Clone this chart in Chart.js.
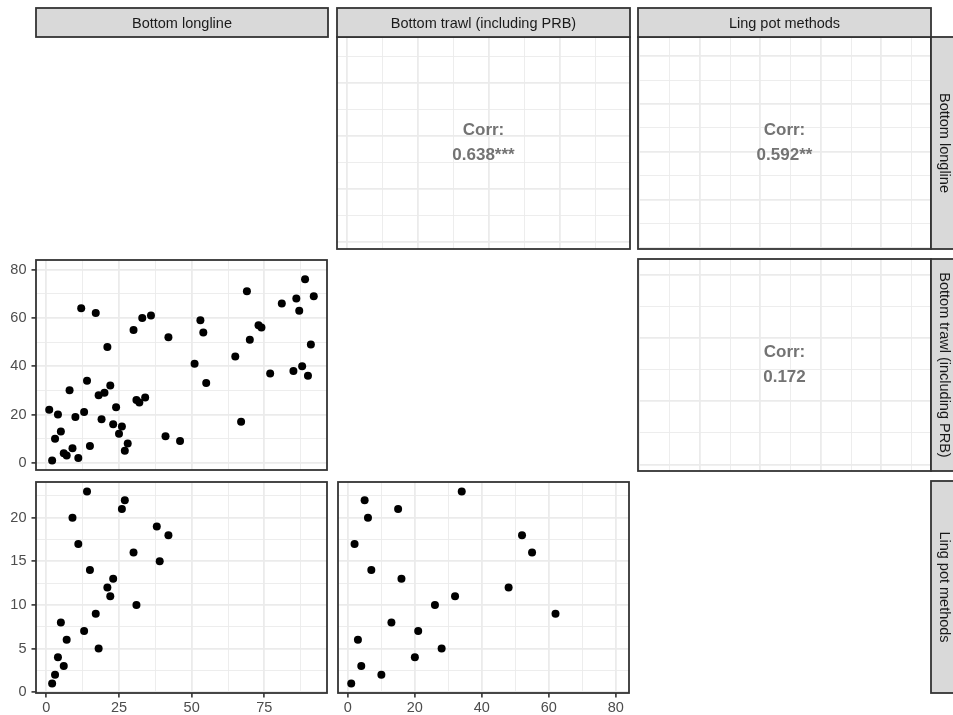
<!DOCTYPE html>
<html>
<head>
<meta charset="utf-8">
<title>Pairwise comparison of fishing methods</title>
<script src="https://cdn.jsdelivr.net/npm/chart.js@4.4.1/dist/chart.umd.min.js"></script>
<style>
  html, body { margin: 0; padding: 0; background: #ffffff; }
  #fig { position: relative; width: 953px; height: 715px; overflow: hidden; background: #ffffff; }
  #fig canvas { position: absolute; }
  #fig svg { position: absolute; left: 0; top: 0; pointer-events: none; }
</style>
</head>
<body>
<div id="fig"></div>
<script>
// ---- data -------------------------------------------------------------
const methods = ['Bottom longline', 'Bottom trawl (including PRB)', 'Ling pot methods'];

// Bottom longline (x) against bottom trawl (y)
const ltLongline = [1, 2, 3, 4, 5, 6, 7, 8, 9, 10, 11, 12, 13, 14, 15, 17, 18, 19, 20, 21, 22, 23, 24, 25, 26, 27, 28,
                    30, 31, 32, 33, 34, 36, 41, 42, 46, 51, 53, 54, 55, 65, 67, 69, 70, 73, 74, 77, 81, 85, 86, 87, 88, 89, 90, 91, 92];
const ltTrawl    = [22, 1, 10, 20, 13, 4, 3, 30, 6, 19, 2, 64, 21, 34, 7, 62, 28, 18, 29, 48, 32, 16, 23, 12, 15, 5, 8,
                    55, 26, 25, 60, 27, 61, 11, 52, 9, 41, 59, 54, 33, 44, 17, 71, 51, 57, 56, 37, 66, 38, 68, 63, 40, 76, 36, 49, 69];

// Bottom longline (x) against ling pot methods (y)
const lpLongline = [2, 3, 4, 5, 6, 7, 9, 11, 13, 14, 15, 17, 18, 21, 22, 23, 26, 27, 30, 31, 38, 39, 42];
const lpLing     = [1, 2, 4, 8, 3, 6, 20, 17, 7, 23, 14, 9, 5, 12, 11, 13, 21, 22, 16, 10, 19, 15, 18];

// Bottom trawl (x) against ling pot methods (y)
const tpTrawl = [1, 2, 3, 4, 5, 6, 7, 10, 13, 15, 16, 20, 21, 26, 28, 32, 34, 48, 52, 55, 62];
const tpLing  = [1, 17, 6, 3, 22, 20, 14, 2, 8, 21, 13, 4, 7, 10, 5, 11, 23, 12, 18, 16, 9];

// Pearson correlations for the upper triangle
const corrCoef  = [0.638, 0.592, 0.172];
const corrStars = ['***', '**', ''];

// Axis breaks
const longlineBreaks = [0, 25, 50, 75];
const trawlBreaks    = [0, 20, 40, 60, 80];
const lingBreaks     = [0, 5, 10, 15, 20];
const longlineLingBreaks = [0, 10, 20, 30, 40];

// ---- scales -----------------------------------------------------------
function minorOf(major, min, max) {
  const step = major[1] - major[0];
  const out = [];
  for (let v = major[0] - step / 2; v <= max; v += step) if (v >= min) out.push(v);
  return out;
}
function scaleSpec(min, max, major) {
  return { min, max, major: major.filter(v => v >= min && v <= max), minor: minorOf(major, min, max) };
}
const SC = {
  longline:     scaleSpec(-3.55, 96.55, longlineBreaks),
  trawl:        scaleSpec(-2.95, 83.95, trawlBreaks),
  ling:         scaleSpec(-0.1, 24.1, lingBreaks),
  trawlPairLL:  scaleSpec(-2.75, 79.75, trawlBreaks),
  longlinePairLP: scaleSpec(-0.3, 44, longlineLingBreaks),
  trawlPairLP:  scaleSpec(-2.05, 65.05, trawlBreaks)
};

// ---- layout -----------------------------------------------------------
const FONT = '"Liberation Sans", Arial, Helvetica, sans-serif';
const colLeft = [36, 337, 638], colWidth = [292, 293, 293];
const rowTop = [37, 259, 481], rowHeight = [212, 212, 212];
const stripTop = 8, stripSize = 28;
const axisW = 36, axisH = 22, M = 3;

function gridScale(spec, showAxis, axis) {
  const ticks = spec.major.concat(spec.minor).sort((a, b) => a - b);
  const isMajor = v => spec.major.some(m => Math.abs(m - v) < 1e-9);
  return {
    type: 'linear',
    position: axis === 'x' ? 'bottom' : 'left',
    min: spec.min, max: spec.max,
    afterBuildTicks: s => { s.ticks = ticks.map(v => ({ value: v })); },
    afterFit: s => {
      if (axis === 'x') s.height = showAxis ? axisH : 0; else s.width = showAxis ? axisW : 0;
      s.paddingTop = s.paddingBottom = s.paddingLeft = s.paddingRight = 0;
    },
    border: { display: false },
    grid: {
      color: '#EBEBEB',
      lineWidth: c => (c.tick && isMajor(c.tick.value)) ? 1.8 : 0.9,
      drawTicks: showAxis,
      tickLength: 4.5,
      tickWidth: 1.6,
      tickColor: c => (c.tick && isMajor(c.tick.value)) ? '#333333' : 'rgba(0,0,0,0)'
    },
    ticks: {
      display: showAxis, autoSkip: false, maxRotation: 0, minRotation: 0,
      padding: axis === 'x' ? 2 : 5,
      color: '#4D4D4D',
      font: { family: FONT, size: 14.5 },
      callback: v => isMajor(v) ? String(v) : ''
    }
  };
}

// border around each panel
const panelFrame = {
  id: 'panelFrame',
  afterDraw(chart) {
    const { ctx, chartArea: a } = chart;
    ctx.save();
    ctx.strokeStyle = '#333333';
    ctx.lineWidth = 1.8;
    ctx.strokeRect(a.left, a.top, a.right - a.left, a.bottom - a.top);
    ctx.restore();
  }
};

// "Corr:" annotation in the upper triangle
function corrText(i) {
  return {
    id: 'corrText',
    afterDatasetsDraw(chart) {
      const { ctx, chartArea: a } = chart;
      const cx = (a.left + a.right) / 2, cy = (a.top + a.bottom) / 2;
      ctx.save();
      ctx.fillStyle = '#737373';
      ctx.font = 'bold 17px ' + FONT;
      ctx.textAlign = 'center';
      ctx.textBaseline = 'middle';
      ctx.fillText('Corr:', cx, cy - 12.5);
      ctx.fillText(corrCoef[i].toFixed(3) + corrStars[i], cx, cy + 12.5);
      ctx.restore();
    }
  };
}

const panels = [
  { r: 1, c: 0, x: SC.longline, y: SC.trawl, xs: ltLongline, ys: ltTrawl, showX: false, showY: true },
  { r: 2, c: 0, x: SC.longline, y: SC.ling,  xs: lpLongline, ys: lpLing,  showX: true,  showY: true },
  { r: 2, c: 1, x: SC.trawl,    y: SC.ling,  xs: tpTrawl,    ys: tpLing,  showX: true,  showY: false },
  { r: 0, c: 1, x: SC.trawlPairLL, y: SC.longline,       corr: 0 },
  { r: 0, c: 2, x: SC.ling,        y: SC.longlinePairLP, corr: 1 },
  { r: 1, c: 2, x: SC.ling,        y: SC.trawlPairLP,    corr: 2 }
];

const fig = document.getElementById('fig');

panels.forEach(p => {
  const showX = !!p.showX, showY = !!p.showY;
  const left = colLeft[p.c] - (showY ? axisW : M);
  const top = rowTop[p.r] - M;
  const w = colWidth[p.c] + (showY ? axisW : M) + M;
  const h = rowHeight[p.r] + M + (showX ? axisH : M);
  const cv = document.createElement('canvas');
  cv.width = w; cv.height = h;
  cv.style.left = left + 'px'; cv.style.top = top + 'px';
  cv.style.width = w + 'px'; cv.style.height = h + 'px';
  fig.appendChild(cv);

  const points = p.xs ? p.xs.map((v, i) => ({ x: v, y: p.ys[i] })) : [];
  const plugins = [panelFrame];
  if (p.corr !== undefined) plugins.push(corrText(p.corr));

  new Chart(cv, {
    type: 'scatter',
    data: {
      datasets: [{
        data: points,
        backgroundColor: '#000000',
        borderColor: '#000000',
        borderWidth: 0,
        pointRadius: 4,
        pointHoverRadius: 4
      }]
    },
    options: {
      responsive: false,
      maintainAspectRatio: false,
      animation: false,
      devicePixelRatio: 1,
      events: [],
      layout: { padding: { left: showY ? 0 : M, right: M, top: M, bottom: showX ? 0 : M } },
      plugins: { legend: { display: false }, tooltip: { enabled: false }, title: { display: false } },
      scales: {
        x: gridScale(p.x, showX, 'x'),
        y: gridScale(p.y, showY, 'y')
      }
    },
    plugins
  });
});

// ---- facet strips -----------------------------------------------------
const NS = 'http://www.w3.org/2000/svg';
const svg = document.createElementNS(NS, 'svg');
svg.setAttribute('width', 953);
svg.setAttribute('height', 715);
fig.appendChild(svg);

function strip(x, y, w, h, label, vertical) {
  const rect = document.createElementNS(NS, 'rect');
  rect.setAttribute('x', x); rect.setAttribute('y', y);
  rect.setAttribute('width', w); rect.setAttribute('height', h);
  rect.setAttribute('fill', '#D9D9D9');
  rect.setAttribute('stroke', '#333333');
  rect.setAttribute('stroke-width', 1.8);
  svg.appendChild(rect);
  const t = document.createElementNS(NS, 'text');
  const cx = x + w / 2, cy = y + h / 2;
  t.setAttribute('x', cx); t.setAttribute('y', cy);
  t.setAttribute('text-anchor', 'middle');
  t.setAttribute('dominant-baseline', 'central');
  t.setAttribute('fill', '#1A1A1A');
  t.setAttribute('font-family', FONT);
  t.setAttribute('font-size', 14.5);
  if (vertical) t.setAttribute('transform', `rotate(90 ${cx} ${cy})`);
  t.textContent = label;
  svg.appendChild(t);
}

methods.forEach((m, c) => strip(colLeft[c], stripTop, colWidth[c], rowTop[0] - stripTop, m, false));
methods.forEach((m, r) => strip(colLeft[2] + colWidth[2], rowTop[r], stripSize, rowHeight[r], m, true));
</script>
</body>
</html>
